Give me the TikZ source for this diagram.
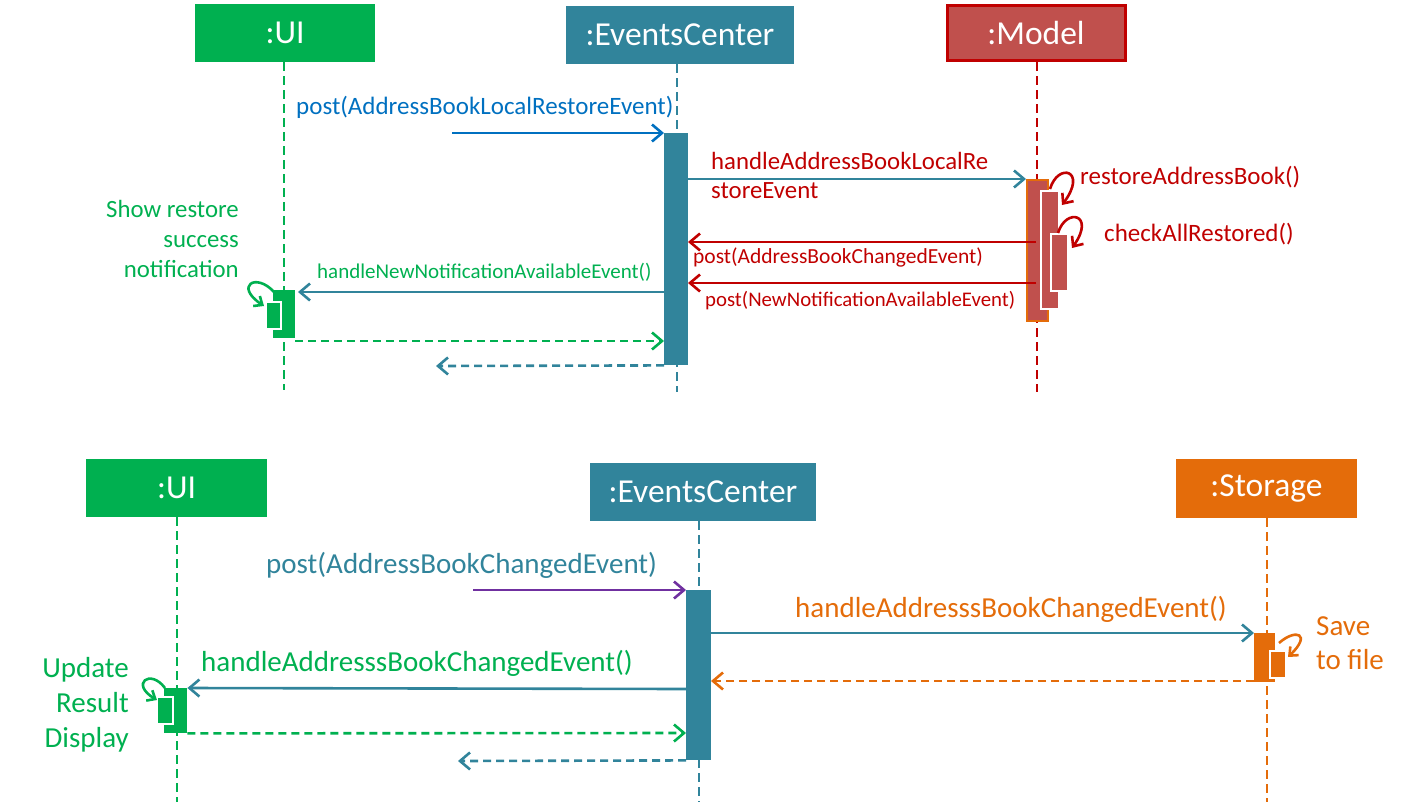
\documentclass[tikz,border=0pt]{standalone}
\usepackage{fontspec}
\setmainfont{Carlito}
\usetikzlibrary{arrows.meta}
\definecolor{cgreen}{HTML}{00B050}
\definecolor{cteal}{HTML}{31849B}
\definecolor{cblue}{HTML}{0070C0}
\definecolor{cred}{HTML}{C00000}
\definecolor{cmodel}{HTML}{C0504D}
\definecolor{corange}{HTML}{E46C0A}
\definecolor{cpurple}{HTML}{7030A0}
\tikzset{
  hdr/.style={rectangle, inner sep=0pt, text=white, font=\fontsize{33.5}{38}\selectfont},
  life/.style={line width=2.5pt, dash pattern=on 9pt off 5pt},
  actbox/.style={rectangle, inner sep=0pt, anchor=north west},
  msg/.style={line width=2.6pt, -{Straight Barb[length=10pt,width=17pt]}},
  ret/.style={msg, dash pattern=on 8pt off 5pt},
  lbl/.style={inner sep=0pt, anchor=base west},
}
\begin{document}
\begin{tikzpicture}[x=1pt,y=-1pt]
\useasboundingbox (0,0) rectangle (1406,806);
% ---------- TOP ----------
\node[hdr, fill=cgreen, minimum width=180pt, minimum height=58pt] (ui1) at (285,33) {:UI};
\node[hdr, fill=cteal, minimum width=228pt, minimum height=58pt] (ec1) at (680,35) {:EventsCenter};
\node[hdr, fill=cmodel, draw=cred, line width=3pt, minimum width=178pt, minimum height=55pt] (md1) at (1036,33) {:Model};
\coordinate (ui1end) at (284,390);
\coordinate (ec1end) at (677,392);
\coordinate (md1end) at (1037,392);
\draw[life, cgreen] (ui1end |- ui1.south) -- (ui1end);
\draw[life, cteal] (ec1end |- ec1.south) -- (ec1end);
\draw[life, cred] (md1end |- md1.south) -- (md1end);
% activations
\node[actbox, fill=cteal, minimum width=24pt, minimum height=232pt] (ec1a) at (664,133) {};
\node[actbox, fill=cmodel, draw=corange, line width=2pt, minimum width=21pt, minimum height=141pt] (m1a) at (1026,179) {};
\node[actbox, fill=cmodel, draw=white, line width=2pt, minimum width=18pt, minimum height=118pt] (m1b) at (1040,190) {};
\node[actbox, fill=cmodel, draw=white, line width=2pt, minimum width=17pt, minimum height=57pt] (m1c) at (1050,233) {};
\node[actbox, fill=cgreen, minimum width=22pt, minimum height=48pt] (ui1a) at (273,290) {};
\node[actbox, fill=cgreen, draw=white, line width=1.5pt, minimum width=15pt, minimum height=27pt] (ui1b) at (265,301) {};
% messages
\coordinate (s1) at (452,133);
\draw[msg, cblue] (s1) -- (ec1a.north west);
\node[lbl, text=cblue, font=\fontsize{25}{29}\selectfont] (l1) at (296,114) {post(AddressBookLocalRestoreEvent)};
\coordinate (s2) at (688,179);
\draw[msg, cteal] (s2) -- (m1a.north west);
\node[lbl, text=cred, font=\fontsize{24.8}{29}\selectfont, align=left, anchor=north west] (l2) at (711,152) {handleAddressBookLocalRe\\storeEvent};
\coordinate (s3) at (1036,242);
\coordinate (e3) at (688,242);
\draw[msg, cred] (s3) -- (e3);
\node[lbl, text=cred, font=\fontsize{21.5}{25}\selectfont] (l3) at (693,263) {post(AddressBookChangedEvent)};
\coordinate (s4) at (1036,283);
\coordinate (e4) at (688,283);
\draw[msg, cred] (s4) -- (e4);
\node[lbl, text=cred, font=\fontsize{20.8}{25}\selectfont] (l4) at (705,306) {post(NewNotificationAvailableEvent)};
% self calls on model
\coordinate (sc1) at (1050,189);
\coordinate (tc1) at (1062,205);
\draw[msg, cred, -{Straight Barb[length=8pt,width=14pt]}] (sc1) .. controls (1058,162) and (1088,170) .. (tc1);
\node[lbl, text=cred, font=\fontsize{25}{29}\selectfont] (l5) at (1080,184) {restoreAddressBook()};
\coordinate (sc2) at (1058,233);
\coordinate (tc2) at (1072,248);
\draw[msg, cred, -{Straight Barb[length=8pt,width=14pt]}] (sc2) .. controls (1066,207) and (1096,214) .. (tc2);
\node[lbl, text=cred, font=\fontsize{25}{29}\selectfont] (l6) at (1104,241) {checkAllRestored()};
% notification to UI
\coordinate (s7) at (664,292);
\coordinate (e7) at (298,292);
\draw[msg, cteal] (s7) -- (e7);
\node[lbl, text=cgreen, font=\fontsize{21}{25}\selectfont] (l7) at (317,278) {handleNewNotificationAvailableEvent()};
\coordinate (sc3) at (274,292);
\coordinate (tc3) at (264,306);
\draw[msg, cgreen, -{Straight Barb[length=7pt,width=12pt]}] (sc3) .. controls (256,272) and (234,286) .. (tc3);
\node[text=cgreen, font=\fontsize{24.8}{30}\selectfont, align=right, anchor=north east, inner sep=0pt] (l8) at (239,200) {Show restore\\success\\notification};
\coordinate (e9) at (664,341);
\draw[ret, cgreen] (ui1a.south east |- e9) -- (e9);
\coordinate (e10) at (436,366);
\draw[ret, cteal] (ec1a.south west) -- (e10);
% ---------- BOTTOM ----------
\node[hdr, fill=cgreen, minimum width=181pt, minimum height=58pt] (ui2) at (176.5,488) {:UI};
\node[hdr, fill=cteal, minimum width=226pt, minimum height=58pt] (ec2) at (703,492) {:EventsCenter};
\node[hdr, fill=corange, minimum width=181pt, minimum height=59pt] (st2) at (1266.5,488.5) {:Storage};
\coordinate (ui2end) at (177,802);
\coordinate (ec2end) at (699,802);
\coordinate (st2end) at (1267,802);
\draw[life, cgreen] (ui2end |- ui2.south) -- (ui2end);
\draw[life, cteal] (ec2end |- ec2.south) -- (ec2end);
\draw[life, corange] (st2end |- st2.south) -- (st2end);
\node[actbox, fill=cteal, minimum width=25pt, minimum height=170pt] (ec2a) at (686,590) {};
\node[actbox, fill=corange, minimum width=21pt, minimum height=49pt] (st2a) at (1254,633) {};
\node[actbox, fill=corange, draw=white, line width=1.5pt, minimum width=16pt, minimum height=27pt] (st2b) at (1269,650) {};
\node[actbox, fill=cgreen, minimum width=23pt, minimum height=45pt] (ui2a) at (164,688) {};
\node[actbox, fill=cgreen, draw=white, line width=1.5pt, minimum width=16pt, minimum height=27pt] (ui2b) at (156,696) {};
\coordinate (b1) at (473,590);
\draw[msg, cpurple] (b1) -- (ec2a.north west);
\node[lbl, text=cteal, font=\fontsize{29}{33}\selectfont] (lb1) at (266,573) {post(AddressBookChangedEvent)};
\coordinate (b2) at (711,633);
\draw[msg, cteal] (b2) -- (st2a.north west);
\node[lbl, text=corange, font=\fontsize{29}{33}\selectfont] (lb2) at (795,617) {handleAddresssBookChangedEvent()};
\coordinate (sb3) at (1279,643);
\coordinate (tb3) at (1288,657);
\draw[msg, corange, -{Straight Barb[length=7pt,width=12pt]}] (sb3) .. controls (1296,628) and (1312,634) .. (tb3);
\node[text=corange, font=\fontsize{29}{34}\selectfont, align=left, anchor=north west, inner sep=0pt] (lb3) at (1316,616) {Save\\to file};
\coordinate (e11) at (711,681);
\draw[ret, corange] (st2a.south west |- e11) -- (e11);
\coordinate (b4) at (686,689);
\draw[msg, cteal] (b4) -- (ui2a.north east);
\node[lbl, text=cgreen, font=\fontsize{29}{33}\selectfont] (lb4) at (201,671) {handleAddresssBookChangedEvent()};
\coordinate (sc4) at (165,688);
\coordinate (tc4) at (157,700);
\draw[msg, cgreen, -{Straight Barb[length=7pt,width=12pt]}] (sc4) .. controls (150,668) and (130,684) .. (tc4);
\node[text=cgreen, font=\fontsize{29}{35}\selectfont, align=right, anchor=north east, inner sep=0pt] (lb5) at (129,657) {Update\\Result\\Display};
\coordinate (e12) at (686,733);
\draw[ret, cgreen] (ui2a.south east) -- (e12);
\coordinate (e13) at (458,761);
\draw[ret, cteal] (ec2a.south west) -- (e13);
\end{tikzpicture}
\end{document}
